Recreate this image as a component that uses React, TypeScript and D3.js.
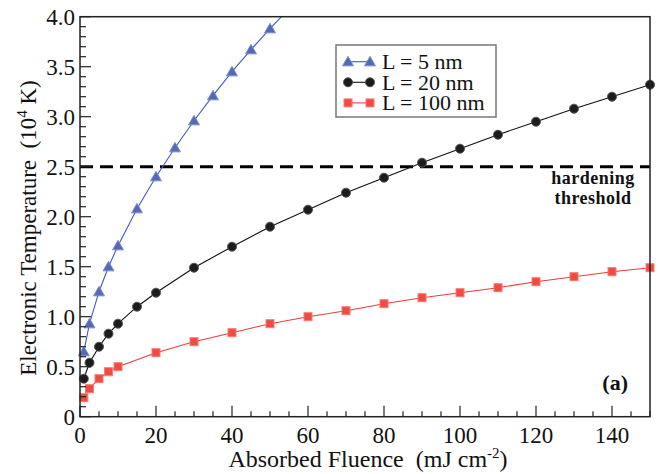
import React from "react";
import * as d3 from "d3";

const fluence5 = [1, 2.5, 5, 7.5, 10, 15, 20, 25, 30, 35, 40, 45, 50, 60];
const temp5 = [0.65, 0.93, 1.25, 1.5, 1.71, 2.08, 2.4, 2.69, 2.96, 3.21, 3.45, 3.67, 3.88, 4.28];
const fluence20 = [1, 2.5, 5, 7.5, 10, 15, 20, 30, 40, 50, 60, 70, 80, 90, 100, 110, 120, 130, 140, 150];
const temp20 = [0.38, 0.54, 0.7, 0.83, 0.93, 1.1, 1.24, 1.49, 1.7, 1.9, 2.07, 2.24, 2.39, 2.54, 2.68, 2.82, 2.95, 3.08, 3.2, 3.32];
const fluence100 = [1, 2.5, 5, 7.5, 10, 20, 30, 40, 50, 60, 70, 80, 90, 100, 110, 120, 130, 140, 150];
const temp100 = [0.19, 0.28, 0.38, 0.45, 0.5, 0.64, 0.75, 0.84, 0.93, 1.0, 1.06, 1.13, 1.19, 1.24, 1.29, 1.35, 1.4, 1.45, 1.49];
const xTickLabels = ["0", "20", "40", "60", "80", "100", "120", "140"];
const yTickLabels = ["0", "0.5", "1.0", "1.5", "2.0", "2.5", "3.0", "3.5", "4.0"];
const seriesNames = ["L = 5 nm", "L = 20 nm", "L = 100 nm"];
const threshold = 2.5;

const W = 660, H = 474;
const L = 80, R = 650, T = 16.7, B = 416.7;
const FONT = "Liberation Serif, Times New Roman, serif";

const x = d3.scaleLinear().domain([0, 150]).range([L, R]);
const y = d3.scaleLinear().domain([0, 4]).range([B, T]);

const BLUE = { line: "#4058c4", fill: "#5468b6", stroke: "#7c8dcc" };
const BLACK = { line: "#111", fill: "#1c1c1c", stroke: "#555" };
const RED = { line: "#f03c3c", fill: "#f14a42", stroke: "#f57d74" };

function Marker({ kind, cx, cy, c }: { kind: string; cx: number; cy: number; c: any }) {
  if (kind === "tri") {
    const p = d3.symbol().type(d3.symbolTriangle).size(52)();
    return <path d={p || ""} transform={`translate(${cx},${cy + 1})`} fill={c.fill} stroke={c.stroke} strokeWidth={1} />;
  }
  if (kind === "circ") {
    return <circle cx={cx} cy={cy} r={4.5} fill={c.fill} stroke={c.stroke} strokeWidth={1} />;
  }
  return <rect x={cx - 4} y={cy - 4} width={8} height={8} fill={c.fill} stroke={c.stroke} strokeWidth={1} />;
}

export default function App() {
  const line = d3.line<[number, number]>().x((d) => x(d[0])).y((d) => y(d[1]));
  const series = [
    { xs: fluence5, ys: temp5, c: BLUE, kind: "tri" },
    { xs: fluence20, ys: temp20, c: BLACK, kind: "circ" },
    { xs: fluence100, ys: temp100, c: RED, kind: "sq" },
  ];
  const xMajor = d3.range(0, 151, 20);
  const xMinor = d3.range(0, 151, 5).filter((v) => v % 20 !== 0);
  const yMajor = d3.range(0, 4.01, 0.5);
  const yMinor = d3.range(0, 41, 1).filter((v) => v % 5 !== 0).map((v) => v / 10);

  return (
    <div style={{ position: "absolute", left: 0, top: 0 }}>
      <svg width={W} height={H} style={{ display: "block", background: "#fff", fontFamily: FONT }}>
        <defs>
          <clipPath id="plotclip">
            <rect x={L} y={T} width={R - L} height={B - T} />
          </clipPath>
        </defs>
        {/* threshold */}
        <line x1={L} x2={R} y1={y(threshold)} y2={y(threshold)} stroke="#000" strokeWidth={3} strokeDasharray="13 7" />
        {/* series */}
        <g clipPath="url(#plotclip)">
          {series.map((s, i) => (
            <path key={i} d={line(s.xs.map((v, j) => [v, s.ys[j]] as [number, number])) || ""} fill="none" stroke={s.c.line} strokeWidth={1.1} />
          ))}
        </g>
        {series.map((s, i) => (
          <g key={i}>
            {s.xs.map((v, j) =>
              s.ys[j] <= 4 ? <Marker key={j} kind={s.kind} cx={x(v)} cy={y(s.ys[j])} c={s.c} /> : null
            )}
          </g>
        ))}
        {/* frame */}
        <rect x={L} y={T} width={R - L} height={B - T} fill="none" stroke="#222" strokeWidth={1.5} />
        {/* ticks */}
        {xMajor.map((v) => (
          <line key={"xM" + v} x1={x(v)} x2={x(v)} y1={B} y2={B - 11} stroke="#222" strokeWidth={1.2} />
        ))}
        {xMinor.map((v) => (
          <line key={"xm" + v} x1={x(v)} x2={x(v)} y1={B} y2={B - 5.5} stroke="#222" strokeWidth={1.2} />
        ))}
        {yMajor.map((v) => (
          <line key={"yM" + v} x1={L} x2={L + 11} y1={y(v)} y2={y(v)} stroke="#222" strokeWidth={1.2} />
        ))}
        {yMinor.map((v) => (
          <line key={"ym" + v} x1={L} x2={L + 6} y1={y(v)} y2={y(v)} stroke="#222" strokeWidth={1.2} />
        ))}
        {/* tick labels */}
        {xTickLabels.map((t, i) => (
          <text key={"xl" + t} x={x(xMajor[i])} y={443} textAnchor="middle" fontSize={23} fill="#111">{t}</text>
        ))}
        {yTickLabels.map((t, i) => (
          <text key={"yl" + t} x={75} y={y(yMajor[i]) + 8} textAnchor="end" fontSize={23} fill="#111">{t}</text>
        ))}
        {/* axis titles */}
        <text x={368} y={467} textAnchor="middle" fontSize={24} fill="#111">
          Absorbed Fluence{"\u00a0\u00a0"}(mJ cm<tspan dy={-9} fontSize={15}>-2</tspan><tspan dy={9}>)</tspan>
        </text>
        <text transform={`translate(36,228) rotate(-90)`} textAnchor="middle" fontSize={23} fill="#111">
          Electronic Temperature{"\u00a0\u00a0"}(10<tspan dy={-9} fontSize={15}>4</tspan><tspan dy={9}>{"\u00a0"}K)</tspan>
        </text>
        {/* annotation */}
        <text x={593} y={184} textAnchor="middle" fontSize={18} fontWeight="bold" fill="#111" letterSpacing={0.5}>hardening</text>
        <text x={593} y={204} textAnchor="middle" fontSize={18} fontWeight="bold" fill="#111" letterSpacing={0.5}>threshold</text>
        <text x={628} y={390} textAnchor="end" fontSize={22} fontWeight="bold" fill="#111">(a)</text>
        {/* legend */}
        <rect x={336} y={45} width={160} height={72} fill="#fff" stroke="#777" strokeWidth={1.5} />
        {series.map((s, i) => {
          const ly = 61.7 + i * 20.6;
          return (
            <g key={"lg" + i}>
              <line x1={348} x2={370} y1={ly} y2={ly} stroke={s.c.line} strokeWidth={1.1} />
              <Marker kind={s.kind} cx={348} cy={ly} c={s.c} />
              <Marker kind={s.kind} cx={370} cy={ly} c={s.c} />
              <text x={382} y={ly + 7.5} fontSize={22} fill="#111">{seriesNames[i]}</text>
            </g>
          );
        })}
      </svg>
    </div>
  );
}
